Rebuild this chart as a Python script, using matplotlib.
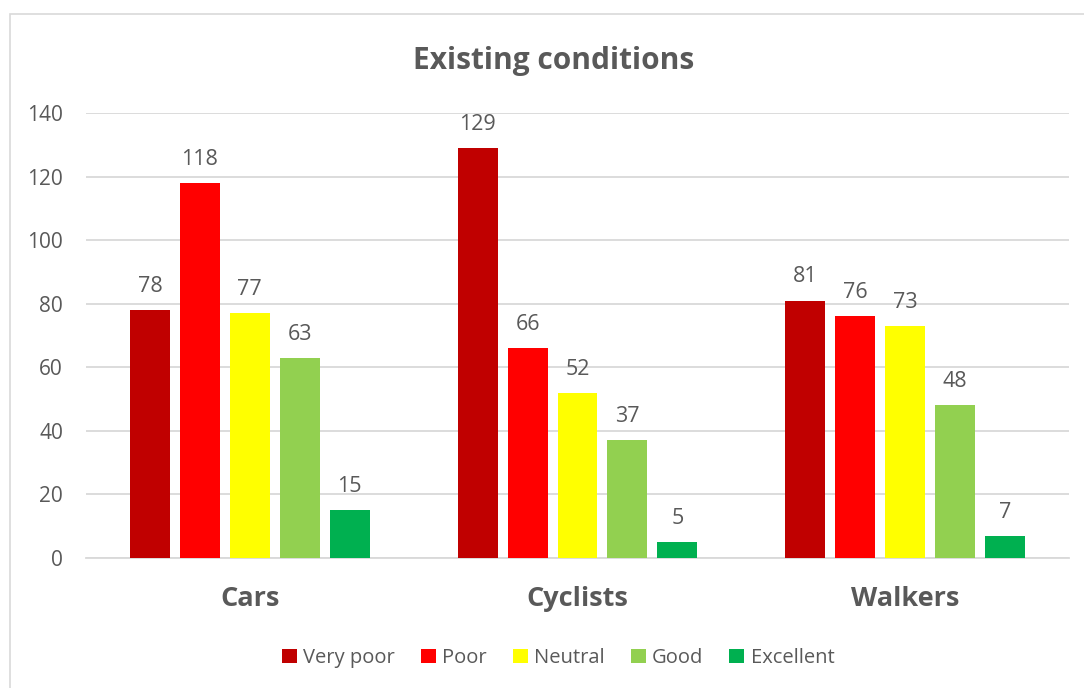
import numpy as np
import matplotlib.pyplot as plt
from matplotlib.patches import Rectangle

plt.rcParams['font.family'] = ['Open Sans', 'DejaVu Sans']

groups = ['Cars', 'Cyclists', 'Walkers']
ratings = ['Very poor', 'Poor', 'Neutral', 'Good', 'Excellent']
colors = ['#C00000', '#FF0000', '#FFFF00', '#92D050', '#00B050']
values = [
    [78, 129, 81],   # Very poor
    [118, 66, 76],   # Poor
    [77, 52, 73],    # Neutral
    [63, 37, 48],    # Good
    [15, 5, 7],      # Excellent
]

txt = '#595959'
fig = plt.figure(figsize=(10.84, 6.88), dpi=100)
ax = fig.add_axes([86 / 1084, 1 - 558 / 688, (1069 - 86) / 1084, (558 - 113) / 688])

# chart frame (light grey border like the spreadsheet chart)
fig.patches.append(Rectangle((10 / 1084, -0.1), 1.2, 1 - 14 / 688 + 0.1,
                             transform=fig.transFigure, fill=False,
                             edgecolor='#D9D9D9', linewidth=1.2))

x = np.arange(len(groups))
step = 0.1524
width = 0.122
for i, (name, col, vals) in enumerate(zip(ratings, colors, values)):
    pos = x + (i - 2) * step
    bars = ax.bar(pos, vals, width, color=col, label=name, zorder=3)
    for b, v in zip(bars, vals):
        ax.annotate(str(v), (b.get_x() + b.get_width() / 2, v), xytext=(0, 17),
                    textcoords='offset points', ha='center', va='center',
                    fontsize=15.5, color=txt)

ax.set_xlim(-0.5, 2.5)
ax.set_ylim(0, 140)
ax.set_yticks(range(0, 141, 20))
ax.set_xticks(x)
ax.set_xticklabels(groups, fontsize=19.5, fontweight='bold', color=txt)
ax.tick_params(axis='x', length=0, pad=20)
ax.tick_params(axis='y', length=0, labelsize=15, labelcolor=txt, pad=16.5)
ax.grid(axis='y', color='#D9D9D9', linewidth=1.3, zorder=0)
for s in ['top', 'right', 'left']:
    ax.spines[s].set_visible(False)
ax.spines['bottom'].set_color('#D9D9D9')
ax.spines['bottom'].set_linewidth(1.3)

fig.text(554 / 1084, 1 - 61 / 688, 'Existing conditions', ha='center', va='center',
         fontsize=21.5, fontweight='bold', color=txt)

leg = fig.legend(loc='center', bbox_to_anchor=(558 / 1084, 1 - 658 / 688), ncol=5,
                 frameon=False, fontsize=14.5, handlelength=0.75, handleheight=0.75,
                 handletextpad=0.3, columnspacing=1.3)
for t in leg.get_texts():
    t.set_color(txt)

fig.savefig('out.png', dpi=100)
